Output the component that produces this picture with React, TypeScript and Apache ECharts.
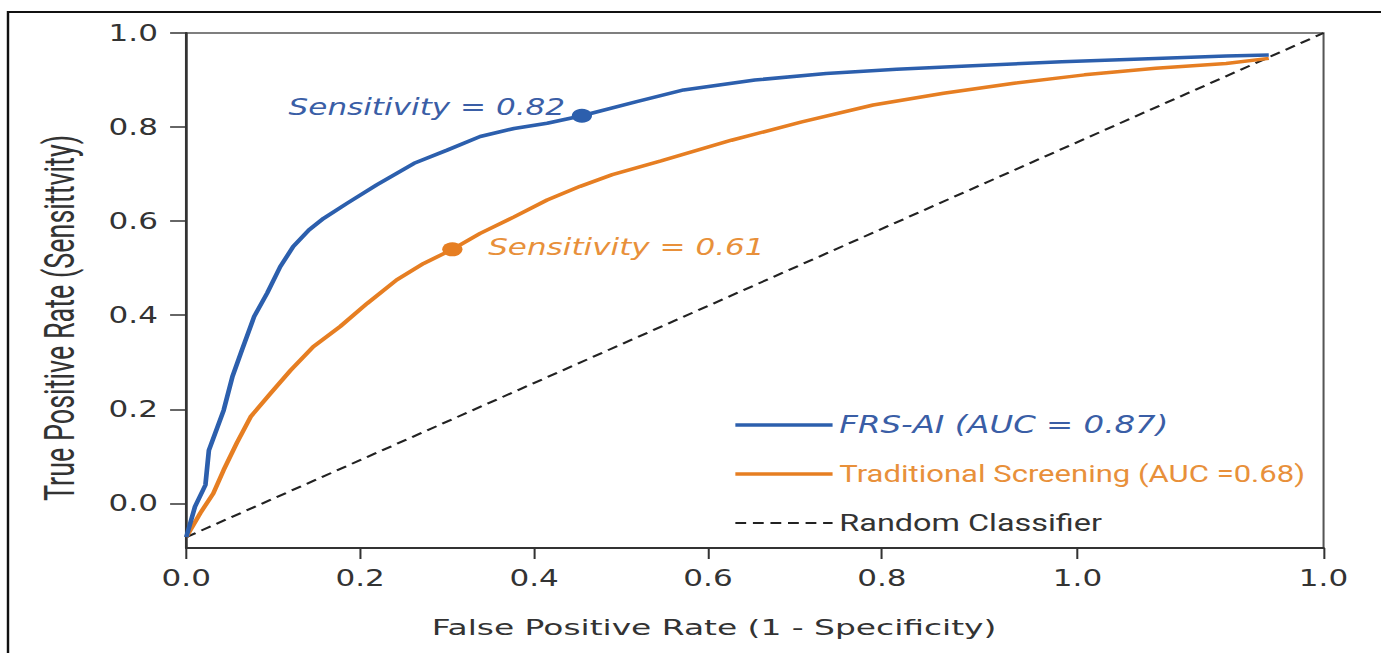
import React, { useEffect, useRef } from "react";
import * as echarts from "echarts";

// ---- data (x in the chart's own false-positive-rate axis units) ----
const SERIES_NAMES = [
  "FRS-AI (AUC = 0.87)",
  "Traditional Screening (AUC =0.68)",
  "Random Classifier",
];

const FRS_AI: number[][] = [
  [0.0, -0.072], [0.01, -0.007], [0.022, 0.039], [0.026, 0.113], [0.043, 0.198],
  [0.053, 0.269], [0.064, 0.326], [0.078, 0.397], [0.093, 0.447], [0.108, 0.503],
  [0.123, 0.546], [0.141, 0.581], [0.158, 0.606], [0.185, 0.638], [0.219, 0.677],
  [0.262, 0.723], [0.3, 0.751], [0.338, 0.78], [0.377, 0.797], [0.415, 0.808],
  [0.455, 0.824], [0.518, 0.854], [0.572, 0.879], [0.654, 0.9], [0.736, 0.914],
  [0.817, 0.923], [0.898, 0.93], [1.007, 0.939], [1.115, 0.946], [1.196, 0.951],
  [1.245, 0.953],
];

const TRADITIONAL: number[][] = [
  [0.0, -0.072], [0.016, -0.021], [0.031, 0.021], [0.043, 0.071], [0.058, 0.128],
  [0.074, 0.184], [0.097, 0.234], [0.12, 0.283], [0.146, 0.333], [0.177, 0.376],
  [0.208, 0.425], [0.242, 0.475], [0.273, 0.51], [0.306, 0.54], [0.338, 0.574],
  [0.377, 0.609], [0.415, 0.645], [0.453, 0.674], [0.49, 0.699], [0.546, 0.728],
  [0.627, 0.772], [0.708, 0.811], [0.79, 0.847], [0.871, 0.872], [0.952, 0.893],
  [1.033, 0.911], [1.115, 0.925], [1.196, 0.935], [1.245, 0.946],
];

const RANDOM: number[][] = [
  [0.0, -0.072],
  [1.308, 1.0],
];

const FRS_POINT: number[][] = [[0.455, 0.824]];
const TRAD_POINT: number[][] = [[0.306, 0.54]];
const FRS_NOTE = "Sensitivity = 0.82";
const TRAD_NOTE = "Sensitivity = 0.61";

const X_MIN = 0;
const X_MAX = 1.308;
const Y_MIN = -0.095;
const Y_MAX = 1.0;
const X_TICKS = [0, 0.2, 0.4, 0.6, 0.8, 1.025, 1.308];
const Y_TICKS = [0, 0.2, 0.4, 0.6, 0.8, 1.0];

const X_TITLE = "False Positive Rate (1 - Specificity)";
const Y_TITLE = "True Positive Rate (Sensittvity)";

// ---- layout ----
const STRETCH = 1.35;
const PAGE_W = 1381;
const PAGE_H = 653;
const W = PAGE_W / STRETCH;

const BLUE = "#2c5fad";
const ORANGE = "#e67e22";
const BLUE_TEXT = "#3a5ea6";
const ORANGE_TEXT = "#e8903a";
const DARK = "#333333";

export default function App() {
  const ref = useRef<HTMLDivElement>(null);

  useEffect(() => {
    if (!ref.current) return;
    document.body.style.overflow = "hidden";
    const chart = echarts.init(ref.current, undefined, { renderer: "svg" });

    const option: any = {
      animation: false,
      backgroundColor: "#ffffff",
      textStyle: { fontFamily: "DejaVu Sans" },
      grid: {
        left: 138,
        right: W - 1323.5 / STRETCH,
        top: 33,
        bottom: PAGE_H - 548,
        containLabel: false,
        outerBoundsMode: "none",
        show: true,
        borderColor: "#555",
        borderWidth: 1.5,
        backgroundColor: "transparent",
      },
      xAxis: {
        type: "value",
        min: X_MIN,
        max: X_MAX,
        axisLine: { show: true, onZero: false, lineStyle: { color: DARK, width: 2 } },
        axisTick: {
          show: true,
          length: 11,
          customValues: X_TICKS,
          lineStyle: { color: DARK, width: 1.5 },
        },
        axisLabel: {
          customValues: X_TICKS,
          formatter: (v: number) => (v > 1 ? "1.0" : v.toFixed(1)),
          margin: 18,
          color: DARK,
          fontFamily: "DejaVu Sans",
          fontSize: 23,
        },
        splitLine: { show: false },
      },
      yAxis: {
        type: "value",
        min: Y_MIN,
        max: Y_MAX,
        axisLine: { show: true, onZero: false, lineStyle: { color: DARK, width: 2 } },
        axisTick: {
          show: true,
          length: 12,
          customValues: Y_TICKS,
          lineStyle: { color: DARK, width: 1.5 },
        },
        axisLabel: {
          customValues: Y_TICKS,
          formatter: (v: number) => v.toFixed(1),
          margin: 21,
          color: DARK,
          fontFamily: "DejaVu Sans",
          fontSize: 23,
        },
        splitLine: { show: false },
      },
      legend: {
        orient: "vertical",
        left: 733 / STRETCH,
        top: 412,
        padding: 0,
        itemWidth: 72,
        itemHeight: 14,
        itemGap: 23,
        itemStyle: { opacity: 0 },
        data: [
          {
            name: SERIES_NAMES[0],
            itemStyle: { opacity: 0 },
            lineStyle: { width: 3.5 },
            textStyle: {
              color: BLUE_TEXT,
              fontStyle: "italic",
              fontFamily: "DejaVu Sans",
              fontSize: 24,
              lineHeight: 26,
            },
          },
          {
            name: SERIES_NAMES[1],
            itemStyle: { opacity: 0 },
            lineStyle: { width: 3.5 },
            textStyle: {
              color: ORANGE_TEXT,
              fontFamily: "Roboto",
              fontSize: 23,
              lineHeight: 26,
            },
          },
          {
            name: SERIES_NAMES[2],
            itemStyle: { opacity: 0 },
            lineStyle: { width: 2 },
            textStyle: {
              color: DARK,
              fontFamily: "Roboto",
              fontSize: 24,
              lineHeight: 26,
            },
          },
        ],
      },
      graphic: [
        {
          type: "rect",
          shape: { x: 8 / STRETCH, y: 12, width: 1500, height: 800 },
          style: { fill: "none", stroke: "#111", lineWidth: 1.8 },
          silent: true,
        },
        {
          type: "text",
          x: 60 / STRETCH,
          y: 318,
          rotation: Math.PI / 2,
          scaleX: 0.87,
          style: {
            text: Y_TITLE,
            font: '31px Roboto',
            fill: DARK,
            align: "center",
            verticalAlign: "middle",
          },
          silent: true,
        },
        {
          type: "text",
          x: 714 / STRETCH,
          y: 628,
          scaleX: 1.16,
          style: {
            text: X_TITLE,
            font: '21px "DejaVu Sans"',
            fill: DARK,
            align: "center",
            verticalAlign: "middle",
          },
          silent: true,
        },
      ],
      series: [
        {
          name: SERIES_NAMES[2],
          type: "line",
          data: RANDOM,
          symbol: "none",
          z: 1,
          lineStyle: { color: "#222", width: 2, type: [8, 5] },
          itemStyle: { color: "#222" },
        },
        {
          name: SERIES_NAMES[1],
          type: "line",
          data: TRADITIONAL,
          symbol: "none",
          z: 2,
          lineStyle: { color: ORANGE, width: 3.5 },
          itemStyle: { color: ORANGE },
        },
        {
          name: SERIES_NAMES[0],
          type: "line",
          data: FRS_AI,
          symbol: "none",
          z: 3,
          lineStyle: { color: BLUE, width: 3.5 },
          itemStyle: { color: BLUE },
        },
        {
          name: "frs-point",
          type: "scatter",
          data: FRS_POINT,
          symbol: "circle",
          symbolSize: [15, 14],
          z: 4,
          itemStyle: { color: BLUE, opacity: 1 },
          label: {
            show: true,
            position: "left",
            distance: 5,
            offset: [0, -9],
            formatter: FRS_NOTE,
            color: BLUE_TEXT,
            fontStyle: "italic",
            fontFamily: "DejaVu Sans",
            fontSize: 23,
          },
        },
        {
          name: "trad-point",
          type: "scatter",
          data: TRAD_POINT,
          symbol: "circle",
          symbolSize: [15, 14],
          z: 4,
          itemStyle: { color: ORANGE, opacity: 1 },
          label: {
            show: true,
            position: "right",
            distance: 19,
            offset: [0, -2],
            formatter: TRAD_NOTE,
            color: ORANGE_TEXT,
            fontStyle: "italic",
            fontFamily: "DejaVu Sans",
            fontSize: 23,
          },
        },
      ],
    };

    chart.setOption(option);
    return () => {
      chart.dispose();
    };
  }, []);

  return (
    <div
      ref={ref}
      style={{
        position: "absolute",
        left: 0,
        top: 0,
        width: W,
        height: PAGE_H,
        transform: `scaleX(${STRETCH})`,
        transformOrigin: "0 0",
        background: "#fff",
      }}
    />
  );
}
